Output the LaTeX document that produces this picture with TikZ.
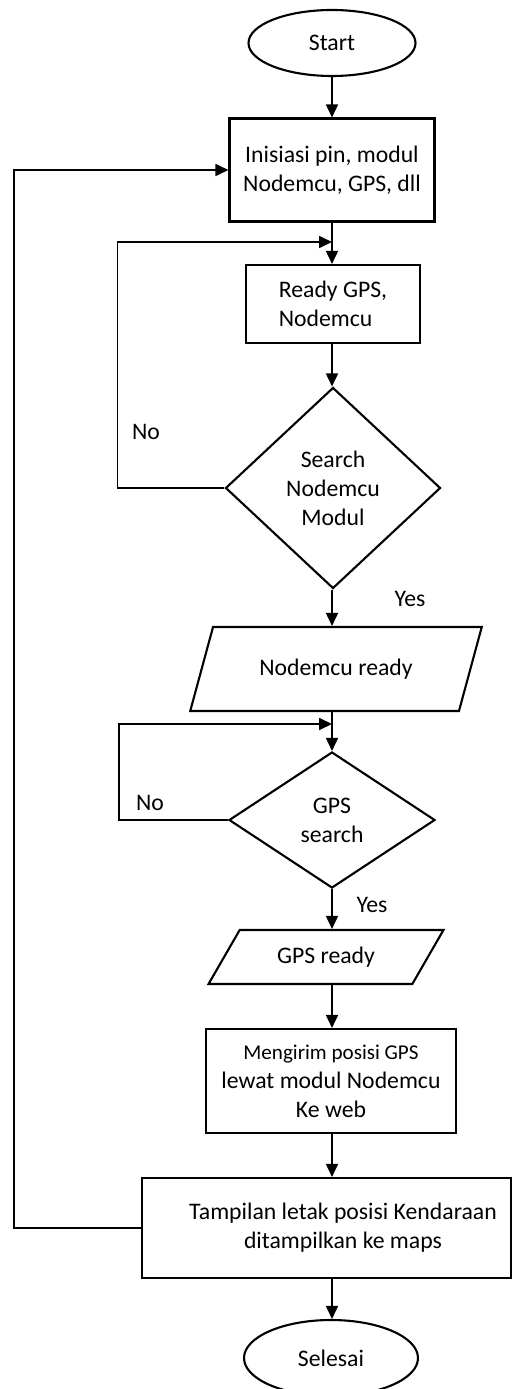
\documentclass[tikz,border=0pt]{standalone}
\usepackage{fontspec}
\setmainfont{Carlito}
\usepackage{tikz}
\usetikzlibrary{shapes.geometric,arrows.meta}

\begin{document}
\begin{tikzpicture}
  [x=.2mm,y=-.2mm,
   every node/.style={font=\fontsize{13.5}{16.5}\selectfont},
   term/.style={ellipse,draw,line width=1.2pt,inner sep=0pt},
   proc/.style={rectangle,draw,line width=1.2pt,align=center,inner sep=0pt},
   io/.style={trapezium,trapezium stretches=true,draw,line width=1.2pt,inner sep=0pt},
   dec/.style={diamond,draw,line width=1.2pt,align=center,inner sep=0pt},
   arr/.style={line width=1pt,-{Triangle[length=2.6mm,width=2.4mm]}}]
  \useasboundingbox (0,0) rectangle (513,1389);

  \node [term,minimum width=33.4mm,minimum height=13.2mm] (start) at (332,43) {Start};
  \node [proc,minimum width=41mm,minimum height=20.6mm] (init) at (332,170) {Inisiasi pin, modul\\Nodemcu, GPS, dll};
  \node [proc,align=left,minimum width=34.8mm,minimum height=15.6mm] (ready) at (333,304) {Ready GPS,\\Nodemcu};
  \node [dec,minimum width=43mm,minimum height=40.2mm] (search) at (333,488) {Search\\Nodemcu\\Modul};
  \node [io,trapezium left angle=55,trapezium right angle=125,minimum width=58.4mm,minimum height=16.8mm] (nready) at (336,669) {Nodemcu ready};
  \node [dec,minimum width=41.2mm,minimum height=27.2mm] (gps) at (332,820) {GPS\\search};
  \node [io,trapezium left angle=49,trapezium right angle=131,minimum width=47mm,minimum height=10.8mm] (gready) at (326,957) {GPS ready};
  \node [proc,minimum width=50mm,minimum height=20.8mm] (send) at (331,1081) {{\fontsize{12}{14.5}\selectfont Mengirim posisi GPS}\\lewat modul Nodemcu\\Ke web};
  \node [proc,minimum width=73.8mm,minimum height=20mm] (show) at (326.5,1228) {\hspace*{6.6mm}Tampilan letak posisi Kendaraan\\\hspace*{6.6mm}ditampilkan ke maps};
  \node [term,minimum width=34.8mm,minimum height=15.2mm] (stop) at (331,1358) {Selesai};

  \node (no1) at (146,432) {No};
  \node (no2) at (150,803) {No};
  \node (yes1) at (410,599) {Yes};
  \node (yes2) at (372,905) {Yes};

  \coordinate (axis) at (332,0);
  \coordinate (j1) at (332,242);
  \coordinate (j2) at (332,724);

  \foreach \from/\to in {start/init,init/ready,ready/search,search/nready,nready/gps,gps/gready,gready/send,send/show,show/stop}
    \draw [arr] (\from.south -| axis) -- (\to.north -| axis);

  \draw [arr] (search.west) -- ++(-107,0) |- (j1);
  \draw [arr] (gps.west) -- ++(-109,0) |- (j2);
  \draw [arr] (show.west) -- ++(-127,0) |- (init.west);

\end{tikzpicture}
\end{document}
